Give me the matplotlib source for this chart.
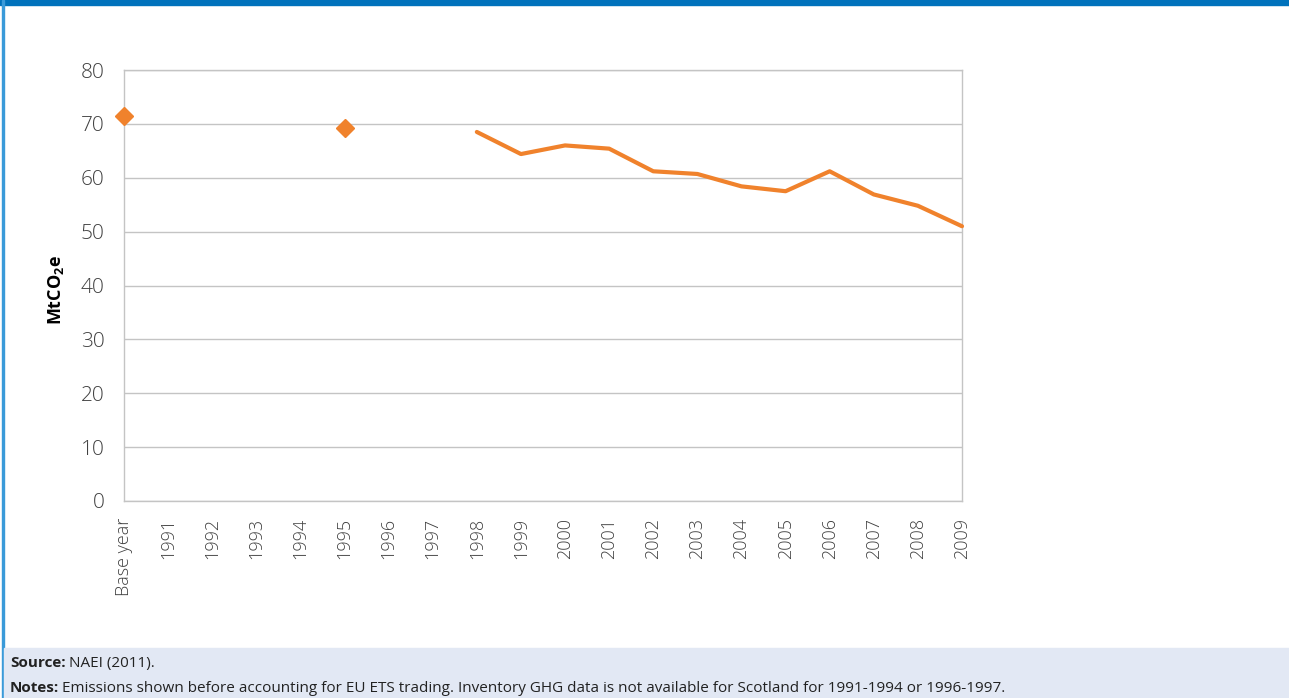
import matplotlib.pyplot as plt
from matplotlib.patches import Rectangle
import numpy as np

plt.rcParams['font.family'] = ['Open Sans', 'DejaVu Sans']
plt.rcParams['mathtext.fontset'] = 'custom'
plt.rcParams['mathtext.rm'] = 'Open Sans'
plt.rcParams['mathtext.bf'] = 'Open Sans:bold'

# Data
categories = ['Base year', '1991', '1992', '1993', '1994', '1995', '1996', '1997',
              '1998', '1999', '2000', '2001', '2002', '2003', '2004', '2005',
              '2006', '2007', '2008', '2009']
point_labels = ['Base year', '1995']
point_values = [71.4, 69.2]
line_labels = ['1998', '1999', '2000', '2001', '2002', '2003', '2004', '2005',
               '2006', '2007', '2008', '2009']
line_values = [68.5, 64.4, 66.0, 65.4, 61.2, 60.7, 58.4, 57.5, 61.2, 56.9, 54.8, 51.0]

ORANGE = '#F0822C'
TEXT = '#404040'
GRID = '#C4C4C4'

fig = plt.figure(figsize=(12.89, 6.98), dpi=100)

# frame decorations
fig.patches.append(Rectangle((0, 1 - 5 / 698), 1, 5 / 698, transform=fig.transFigure,
                             color='#0072BC', zorder=0))
fig.patches.append(Rectangle((2 / 1289, 0), 1.5 / 1289, 1, transform=fig.transFigure,
                             color='#3A9AD9', zorder=0))
fig.patches.append(Rectangle((4 / 1289, 0), 1, 50 / 698, transform=fig.transFigure,
                             color='#E2E8F4', zorder=0))

ax = fig.add_axes([124 / 1289, 1 - 501 / 698, 838 / 1289, 431 / 698])

x = np.arange(len(categories))
idx = {c: i for i, c in enumerate(categories)}
ax.plot([idx[c] for c in line_labels], line_values, color=ORANGE, lw=3,
        solid_capstyle='round', solid_joinstyle='round', clip_on=False, zorder=3)
ax.plot([idx[c] for c in point_labels], point_values, ls='none', marker='D',
        ms=9, color=ORANGE, mec=ORANGE, clip_on=False, zorder=3)

ax.set_xlim(0, len(categories) - 1)
ax.set_ylim(0, 80)
ax.set_yticks(np.arange(0, 81, 10))
ax.set_xticks(x)
ax.set_xticklabels(categories, rotation=90, fontsize=13, color=TEXT)
ax.tick_params(axis='y', labelsize=15, colors=TEXT, length=0, pad=14)
ax.tick_params(axis='x', length=0, pad=12, colors=TEXT)
for lab in ax.get_yticklabels() + ax.get_xticklabels():
    lab.set_fontweight('light')
ax.grid(axis='y', color=GRID, lw=1)
ax.set_axisbelow(True)
for s in ax.spines.values():
    s.set_color(GRID)
    s.set_linewidth(1)

ax.set_ylabel(r'MtCO$_{\mathbf{2}}$e', fontsize=13, fontweight='bold', color='black')
ax.yaxis.set_label_coords(-58 / 838, 0.49)

# footer
foot = dict(fontsize=11, va='center', color='#222222')
t1 = fig.text(10 / 1289, 1 - 663 / 698, 'Source:', fontweight='bold', **foot)
t2 = fig.text(10 / 1289, 1 - 688 / 698, 'Notes:', fontweight='bold', **foot)
fig.canvas.draw()
r = fig.canvas.get_renderer()
w1 = t1.get_window_extent(r).x1 / fig.bbox.width
w2 = t2.get_window_extent(r).x1 / fig.bbox.width
fig.text(w1 + 3 / 1289, 1 - 663 / 698, 'NAEI (2011).', **foot)
fig.text(w2 + 3 / 1289, 1 - 688 / 698,
         'Emissions shown before accounting for EU ETS trading. '
         'Inventory GHG data is not available for Scotland for 1991-1994 or 1996-1997.',
         **foot)

fig.savefig('out.png', dpi=100)
